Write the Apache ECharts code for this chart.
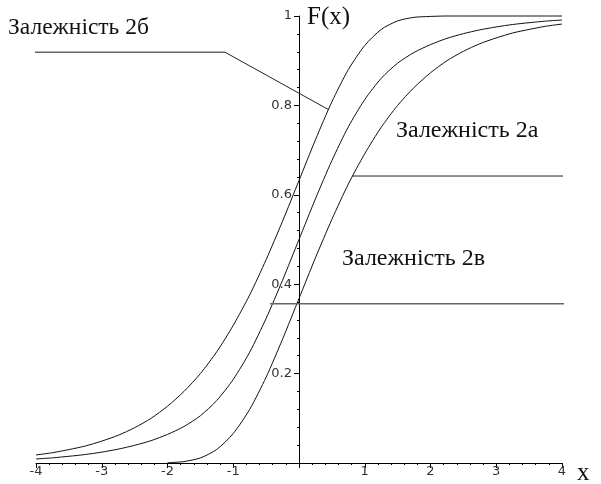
<!DOCTYPE html>
<html>
<head>
<meta charset="utf-8">
<script src="https://cdn.jsdelivr.net/npm/echarts@6/dist/echarts.min.js"></script>
<style>html,body{margin:0;padding:0;background:#fff}#c{width:601px;height:484px}</style>
</head>
<body>
<div id="c"></div>
<script>
var xs = [-4,-3.75,-3.5,-3.25,-3,-2.75,-2.5,-2.25,-2,-1.75,-1.5,-1.25,-1,-0.75,-0.5,-0.25,0,0.25,0.5,0.75,1,1.25,1.5,1.75,2,2.25,2.5,2.75,3,3.25,3.5,3.75,4];
// curve "2б" (left)
var curveLeft = [0.018,0.023,0.030,0.038,0.049,0.062,0.079,0.100,0.127,0.160,0.200,0.249,0.308,0.376,0.455,0.541,0.632,0.723,0.808,0.880,0.934,0.970,0.989,0.997,0.999,1,1,1,1,1,1,1,1];
// curve "2а" (middle)
var curveMid = [0.009,0.0115,0.015,0.019,0.0243,0.031,0.0395,0.050,0.064,0.0816,0.1057,0.140,0.187,0.248,0.3235,0.409,0.5,0.591,0.6765,0.752,0.813,0.8605,0.8945,0.9185,0.936,0.950,0.9605,0.969,0.9755,0.981,0.985,0.9885,0.991];
// curve "2в" (right), drawn from x = -2
var curveRight = [null,null,null,null,null,null,null,null,0.0006,0.0032,0.0113,0.0305,0.066,0.120,0.192,0.277,0.368,0.459,0.545,0.624,0.692,0.751,0.800,0.840,0.873,0.900,0.921,0.938,0.951,0.962,0.970,0.977,0.982];
// annotation leader lines (data units)
var lead2bFlat = [[-4.24,0.919],[-1.125,0.919]];
var lead2bDiag = [[-1.125,0.919],[0.456,0.790]];
var lead2a = [[0.806,0.642],[4.6,0.642]];
var lead2v = [[-0.44,0.356],[4.05,0.356]];
var xTicks = [-4,-3,-2,-1,1,2,3,4];
var yTicks = [0.2,0.4,0.6,0.8,1];

function pairs(ys){var r=[];for(var i=0;i<xs.length;i++){if(ys[i]!==null)r.push([xs[i],ys[i]]);}return r;}
var curveStyle = {color:'#111',width:1};
function curve(ys){return {type:'line',data:pairs(ys),showSymbol:false,smooth:0.25,lineStyle:curveStyle,silent:true,clip:false,z:3};}
function lead(d,col,w){return {type:'line',data:d,showSymbol:false,lineStyle:{color:col,width:w},silent:true,clip:false,z:4};}

var chart = echarts.init(document.getElementById('c'));
chart.setOption({
  animation:false,
  backgroundColor:'#fff',
  grid:{left:36,right:39,top:16,bottom:21,containLabel:false},
  xAxis:{type:'value',min:-4,max:4,interval:1,
    axisLine:{onZero:true,lineStyle:{color:'#000',width:1}},
    axisTick:{show:true,inside:false,length:5,lineStyle:{color:'#000'}},
    minorTick:{show:true,splitNumber:5,length:2,lineStyle:{color:'#000'}},
    splitLine:{show:false},
    axisLabel:{margin:2,fontSize:13,fontFamily:'DejaVu Sans',color:'#333',
      formatter:function(v){return xTicks.indexOf(v)>=0?String(v):'';}}
  },
  yAxis:{type:'value',min:0,max:1,interval:0.2,offset:-263,
    axisLine:{onZero:false,lineStyle:{color:'#000',width:1}},
    axisTick:{show:true,length:5,lineStyle:{color:'#000'}},
    minorTick:{show:true,splitNumber:5,length:2,lineStyle:{color:'#000'}},
    splitLine:{show:false},
    axisLabel:{margin:7,fontSize:13,fontFamily:'DejaVu Sans',color:'#333',
      formatter:function(v){var r=Math.round(v*10)/10;return yTicks.indexOf(r)>=0?String(r):'';}}
  },
  series:[
    curve(curveLeft),curve(curveMid),curve(curveRight),
    lead(lead2bFlat,'#666',1.5),lead(lead2bDiag,'#222',1),
    lead(lead2a,'#222',1),lead(lead2v,'#666',1.5)
  ],
  graphic:[
    {type:'text',left:8,top:16,style:{text:'Залежність 2б',font:'23.5px "Liberation Serif"',fill:'#111'}},
    {type:'text',left:396,top:119,style:{text:'Залежність 2а',font:'24px "Liberation Serif"',fill:'#111'}},
    {type:'text',left:342,top:247,style:{text:'Залежність 2в',font:'24px "Liberation Serif"',fill:'#111'}},
    {type:'text',left:307,top:5,style:{text:'F(x)',font:'25px "Liberation Serif"',fill:'#111'}},
    {type:'text',left:577,top:461,style:{text:'x',font:'25px "Liberation Serif"',fill:'#111'}}
  ]
});
</script>
</body>
</html>
